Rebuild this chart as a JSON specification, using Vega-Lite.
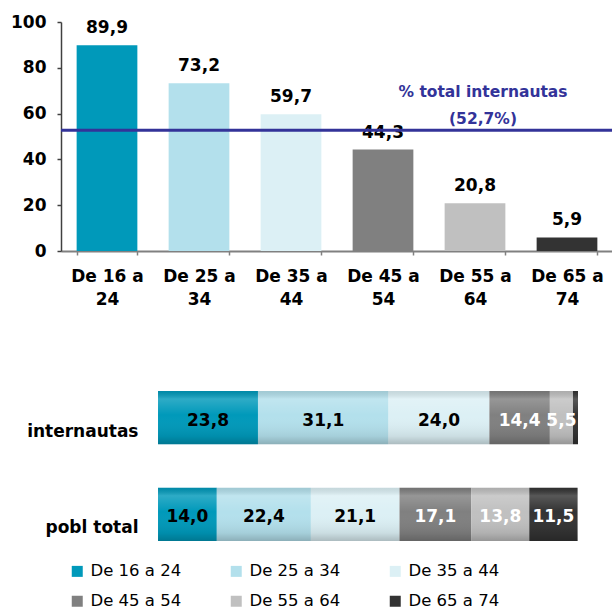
{
  "$schema": "https://vega.github.io/schema/vega-lite/v6.json",
  "padding": {"left": 10, "top": 13, "right": 0, "bottom": 0},
  "config": {
    "font": "DejaVu Sans",
    "view": {"stroke": null},
    "locale": {"number": {"decimal": ",", "thousands": ".", "grouping": [3], "currency": ["", " €"]}},
    "concat": {"spacing": 84}
  },
  "datasets": {
    "edad": [
      {"grupo": "De 16 a 24", "valor": 89.9},
      {"grupo": "De 25 a 34", "valor": 73.2},
      {"grupo": "De 35 a 44", "valor": 59.7},
      {"grupo": "De 45 a 54", "valor": 44.3},
      {"grupo": "De 55 a 64", "valor": 20.8},
      {"grupo": "De 65 a 74", "valor": 5.9}
    ],
    "media": [
      {"grupo": "De 55 a 64", "valor": 52.7, "nota": ["% total  internautas", "(52,7%)"]}
    ],
    "dist": [
      {"serie": "internautas", "grupo": "De 16 a 24", "valor": 23.8},
      {"serie": "internautas", "grupo": "De 25 a 34", "valor": 31.1},
      {"serie": "internautas", "grupo": "De 35 a 44", "valor": 24.0},
      {"serie": "internautas", "grupo": "De 45 a 54", "valor": 14.4},
      {"serie": "internautas", "grupo": "De 55 a 64", "valor": 5.5},
      {"serie": "internautas", "grupo": "De 65 a 74", "valor": 1.2},
      {"serie": "pobl total", "grupo": "De 16 a 24", "valor": 14.0},
      {"serie": "pobl total", "grupo": "De 25 a 34", "valor": 22.4},
      {"serie": "pobl total", "grupo": "De 35 a 44", "valor": 21.1},
      {"serie": "pobl total", "grupo": "De 45 a 54", "valor": 17.1},
      {"serie": "pobl total", "grupo": "De 55 a 64", "valor": 13.8},
      {"serie": "pobl total", "grupo": "De 65 a 74", "valor": 11.5}
    ]
  },
  "resolve": {"scale": {"color": "independent"}, "legend": {"color": "independent"}},
  "vconcat": [
    {
      "width": 552,
      "height": 229,
      "layer": [
        {
          "data": {"name": "edad"},
          "mark": {"type": "bar"},
          "encoding": {
            "x": {
              "field": "grupo", "type": "nominal", "sort": null,
              "scale": {"paddingInner": 0.34, "paddingOuter": 0.17},
              "axis": {
                "title": null, "labelAngle": 0, "tickBand": "extent",
                "domainColor": "#808080", "domainWidth": 2, "tickColor": "#808080", "tickSize": 4, "tickWidth": 1.5,
                "labelFontSize": 17, "labelFontWeight": "bold", "labelColor": "black",
                "labelPadding": 13, "labelLineHeight": 23, "labelBaseline": "top",
                "labelExpr": "[slice(datum.label, 0, 7), slice(datum.label, 8)]"
              }
            },
            "y": {
              "field": "valor", "type": "quantitative",
              "scale": {"domain": [0, 100], "nice": false},
              "axis": {
                "title": null, "grid": false, "values": [0, 20, 40, 60, 80, 100],
                "domainColor": "#404040", "domainWidth": 1.5, "tickColor": "#404040", "tickSize": 4, "tickWidth": 1.5,
                "labelFontSize": 17, "labelFontWeight": "bold", "labelColor": "black", "labelPadding": 11
              }
            },
            "color": {
              "field": "grupo", "type": "nominal", "sort": null,
              "scale": {
                "domain": ["De 16 a 24", "De 25 a 34", "De 35 a 44", "De 45 a 54", "De 55 a 64", "De 65 a 74"],
                "range": ["#0099BA", "#B3E0EC", "#DCF0F5", "#808080", "#C0C0C0", "#333333"]
              },
              "legend": null
            }
          }
        },
        {
          "data": {"name": "edad"},
          "mark": {"type": "text", "fontSize": 17, "fontWeight": "bold", "baseline": "middle", "dy": -17, "color": "black"},
          "encoding": {
            "x": {"field": "grupo", "type": "nominal", "sort": null},
            "y": {"field": "valor", "type": "quantitative"},
            "text": {"field": "valor", "type": "quantitative", "format": ".1f"}
          }
        },
        {
          "data": {"name": "media"},
          "mark": {"type": "rule", "color": "#333399", "strokeWidth": 3},
          "encoding": {
            "y": {"field": "valor", "type": "quantitative"}
          }
        },
        {
          "data": {"name": "media"},
          "mark": {"type": "text", "fontSize": 15.5, "fontWeight": "bold", "color": "#333399", "baseline": "middle", "lineHeight": 27, "dx": 8, "dy": -38},
          "encoding": {
            "x": {"field": "grupo", "type": "nominal"},
            "y": {"field": "valor", "type": "quantitative"},
            "text": {"field": "nota"}
          }
        }
      ]
    },
    {
      "data": {"name": "dist"},
      "width": 517,
      "height": 150,
      "encoding": {
        "y": {
          "field": "serie", "type": "nominal", "sort": null,
          "scale": {"paddingInner": 0.45, "paddingOuter": 0},
          "axis": {
            "title": null, "offset": -97, "domain": false, "ticks": false,
            "labelPadding": 20, "labelFontSize": 17, "labelFontWeight": "bold", "labelColor": "black", "labelOffset": 14
          }
        }
      },
      "layer": [
        {
          "mark": {"type": "bar"},
          "encoding": {
            "x": {
              "field": "valor", "type": "quantitative", "stack": "zero",
              "scale": {"domain": [-23.1, 100], "nice": false, "zero": false},
              "axis": null
            },
            "color": {
              "field": "grupo", "type": "nominal", "sort": null,
              "scale": {
                "domain": ["De 16 a 24", "De 25 a 34", "De 35 a 44", "De 45 a 54", "De 55 a 64", "De 65 a 74"],
                "range": ["#0099BA", "#B3E0EC", "#DCF0F5", "#808080", "#C0C0C0", "#333333"]
              },
              "legend": {
                "orient": "none", "legendX": 8, "legendY": 172, "direction": "horizontal", "columns": 3,
                "title": null, "symbolType": "square", "symbolSize": 121, "symbolStrokeWidth": 0,
                "labelFontSize": 16.5, "labelOffset": 5, "labelColor": "black", "labelLimit": 200,
                "columnPadding": 46, "rowPadding": 13
              }
            },
            "order": {"field": "grupo", "type": "ordinal", "sort": "ascending"}
          }
        },
        {
          "mark": {
            "type": "bar",
            "color": {
              "gradient": "linear", "x1": 0, "y1": 0, "x2": 0, "y2": 1,
              "stops": [
                {"offset": 0, "color": "rgba(0,0,0,0.10)"},
                {"offset": 0.15, "color": "rgba(255,255,255,0.18)"},
                {"offset": 0.45, "color": "rgba(255,255,255,0.0)"},
                {"offset": 0.85, "color": "rgba(0,0,0,0.08)"},
                {"offset": 1, "color": "rgba(0,0,0,0.22)"}
              ]
            }
          },
          "encoding": {
            "x": {"field": "valor", "type": "quantitative", "stack": "zero"},
            "detail": {"field": "grupo", "type": "nominal"},
            "order": {"field": "grupo", "type": "ordinal", "sort": "ascending"}
          }
        },
        {
          "transform": [{"filter": "datum.valor >= 2"}],
          "mark": {"type": "text", "fontSize": 17, "fontWeight": "bold", "baseline": "middle", "dy": 3},
          "encoding": {
            "x": {"field": "valor", "type": "quantitative", "stack": "zero", "bandPosition": 0.5},
            "detail": {"field": "grupo", "type": "nominal"},
            "order": {"field": "grupo", "type": "ordinal", "sort": "ascending"},
            "text": {"field": "valor", "type": "quantitative", "format": ".1f"},
            "color": {"condition": {"test": "datum.grupo >= 'De 45'", "value": "white"}, "value": "black"}
          }
        }
      ]
    }
  ]
}
